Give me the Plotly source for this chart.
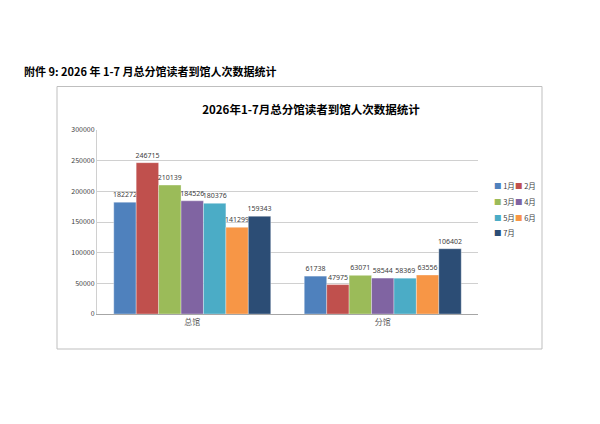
import plotly.graph_objects as go

# data
branches = ["总馆", "分馆"]
months = ["1月", "2月", "3月", "4月", "5月", "6月", "7月"]
visits = {
    "1月": [182272, 61738],
    "2月": [246715, 47975],
    "3月": [210139, 63071],
    "4月": [184526, 58544],
    "5月": [180376, 58369],
    "6月": [141299, 63556],
    "7月": [159343, 106402],
}
y_ticks = [0, 50000, 100000, 150000, 200000, 250000, 300000]

colours = ["#4F81BD", "#C0504D", "#9BBB59", "#8064A2", "#4BACC6", "#F79646", "#2C4D75"]

W, H = 600, 424
OFF = 8  # page body margin in the browser
L, R, T, B = 97 - OFF, 478 - OFF, 130 - OFF, 314 - OFF   # plot area in px
pw, ph = R - L, B - T


def px(x):
    return (x - OFF - L) / pw


def py(y):
    return (B - (y - OFF)) / ph


fig = go.Figure()
for m, c in zip(months, colours):
    fig.add_trace(
        go.Bar(
            x=branches,
            y=visits[m],
            name=m,
            marker=dict(color=c, line=dict(color="rgba(255,255,255,0.55)", width=0.6)),
            text=visits[m],
            textposition="outside",
            constraintext="none",
            textfont=dict(size=7, color="#404040", family="Noto Sans"),
            cliponaxis=False,
        )
    )

fig.update_layout(
    width=W,
    height=H,
    margin=dict(l=L, r=W - R, t=T, b=H - B),
    paper_bgcolor="white",
    plot_bgcolor="white",
    font=dict(family="Noto Sans CJK SC", color="#404040"),
    barmode="group",
    bargap=0.176,
    bargroupgap=0,
    showlegend=False,
    title=dict(
        text="<b>2026年1-7月总分馆读者到馆人次数据统计</b>",
        x=px(311),
        xref="paper",
        xanchor="center",
        y=1 - (110 - OFF) / H,
        yanchor="middle",
        font=dict(size=11.5, color="black", family="Noto Sans CJK SC"),
    ),
)

# legend in two columns, like the spreadsheet one
col_x = [492, 513]
row_y = [185, 201, 217, 232]
for i, (m, c) in enumerate(zip(months, colours)):
    fig.add_annotation(
        text=f"<span style='color:{c}'>■</span> {m}",
        xref="paper",
        yref="paper",
        x=px(col_x[i % 2]),
        y=py(row_y[i // 2]),
        xanchor="left",
        yanchor="middle",
        showarrow=False,
        font=dict(size=7.5, color="#404040", family="Noto Sans CJK SC"),
    )

fig.update_xaxes(
    showline=True,
    linecolor="#A6A6A6",
    linewidth=1,
    ticks="",
    tickfont=dict(size=8, color="#595959"),
    showgrid=False,
)
fig.update_yaxes(
    range=[0, 300000],
    tickvals=y_ticks,
    ticktext=[str(v) for v in y_ticks],
    showgrid=True,
    gridcolor="#D0D0D0",
    gridwidth=1,
    showline=True,
    linecolor="#D0D0D0",
    zeroline=False,
    ticks="",
    tickfont=dict(size=7, color="#404040"),
)

# outer chart frame
fig.add_shape(
    type="rect",
    xref="paper",
    yref="paper",
    x0=px(57),
    x1=px(542),
    y0=py(349),
    y1=py(86.5),
    line=dict(color="#BFBFBF", width=1),
    layer="below",
)

# page heading above the chart
fig.add_annotation(
    text="<b>附件 9: 2026 年 1-7 月总分馆读者到馆人次数据统计</b>",
    xref="paper",
    yref="paper",
    x=px(22),
    y=py(71),
    xanchor="left",
    yanchor="middle",
    showarrow=False,
    font=dict(size=11, color="black", family="Noto Sans CJK SC"),
)

fig.write_html("out.html")
